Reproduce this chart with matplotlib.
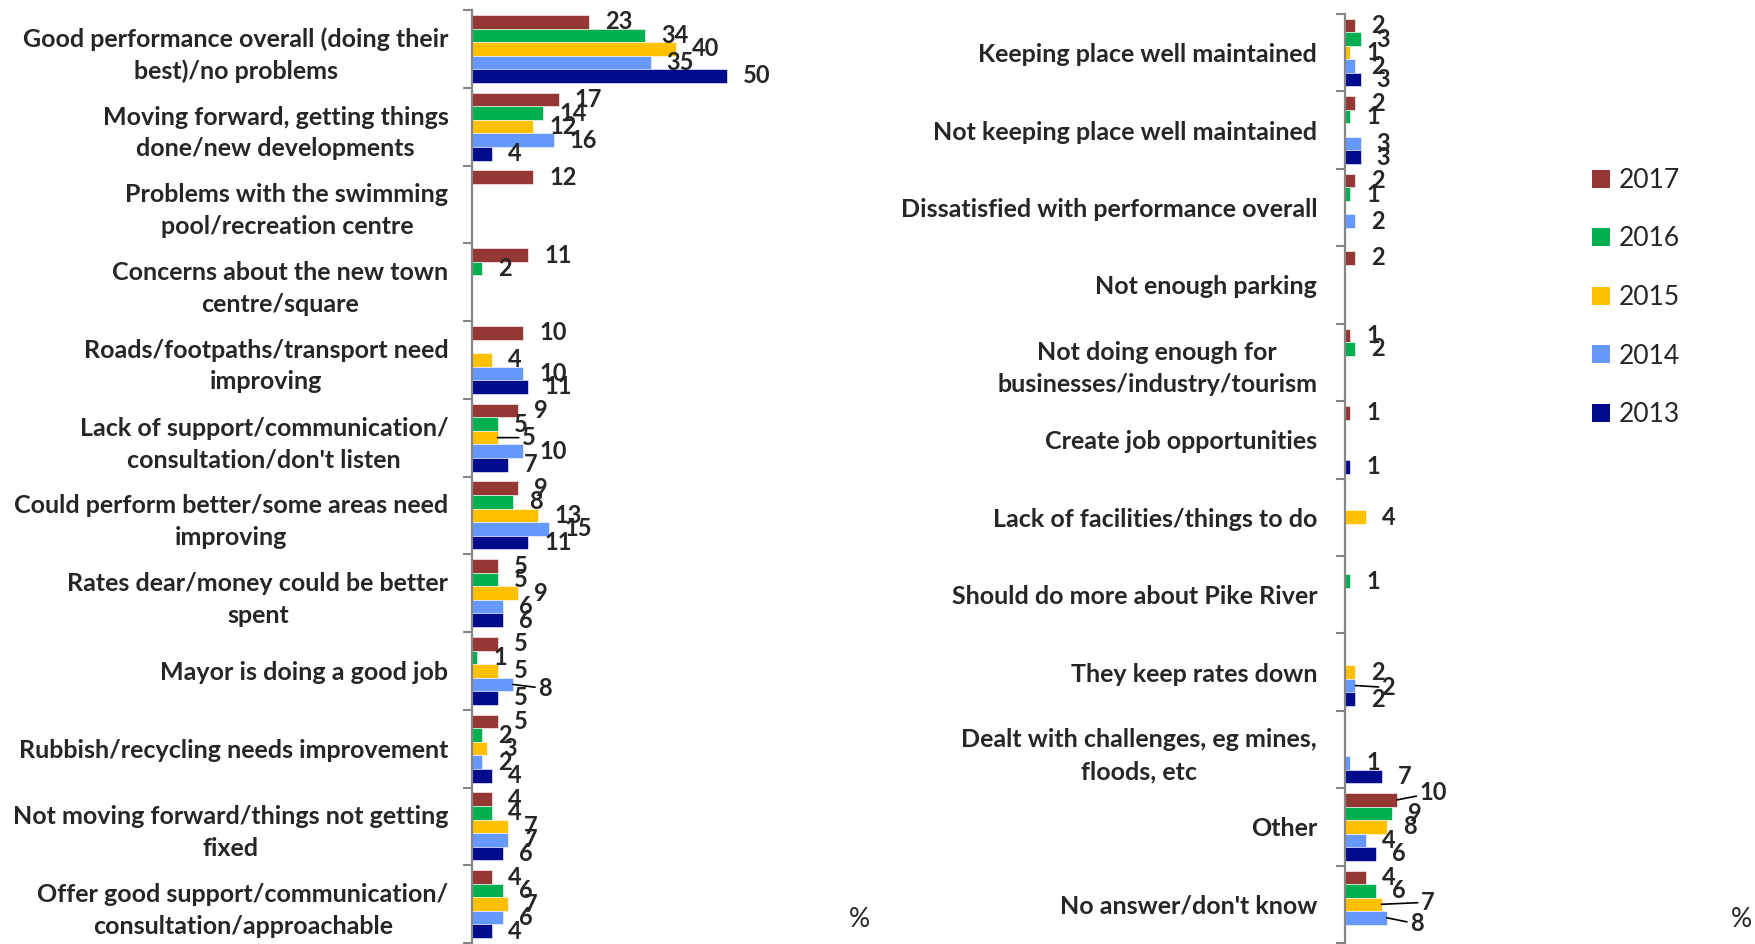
import numpy as np
import matplotlib
matplotlib.use("Agg")
import matplotlib.pyplot as plt
from matplotlib.patches import Patch

plt.rcParams['font.family'] = ['Lato', 'DejaVu Sans']

# series, top to bottom inside each group
years = ['2017', '2016', '2015', '2014', '2013']
colors = ['#953735', '#00B050', '#FFC000', '#6699FF', '#000C8C']

left_labels = [
    "Good performance overall (doing their\nbest)/no problems",
    "Moving forward, getting things\ndone/new developments",
    "Problems with the swimming\npool/recreation centre",
    "Concerns about the new town\ncentre/square",
    "Roads/footpaths/transport need\nimproving",
    "Lack of support/communication/\nconsultation/don't listen",
    "Could perform better/some areas need\nimproving",
    "Rates dear/money could be better\nspent",
    "Mayor is doing a good job",
    "Rubbish/recycling needs improvement",
    "Not moving forward/things not getting\nfixed",
    "Offer good support/communication/\nconsultation/approachable",
]
left_2017 = [23, 17, 12, 11, 10, 9, 9, 5, 5, 5, 4, 4]
left_2016 = [34, 14, None, 2, None, 5, 8, 5, 1, 2, 4, 6]
left_2015 = [40, 12, None, None, 4, 5, 13, 9, 5, 3, 7, 7]
left_2014 = [35, 16, None, None, 10, 10, 15, 6, 8, 2, 7, 6]
left_2013 = [50, 4, None, None, 11, 7, 11, 6, 5, 4, 6, 4]

right_labels = [
    "Keeping place well maintained",
    "Not keeping place well maintained",
    "Dissatisfied with performance overall",
    "Not enough parking",
    "Not doing enough for\nbusinesses/industry/tourism",
    "Create job opportunities",
    "Lack of facilities/things to do",
    "Should do more about Pike River",
    "They keep rates down",
    "Dealt with challenges, eg mines,\nfloods, etc",
    "Other",
    "No answer/don't know",
]
right_2017 = [2, 2, 2, 2, 1, 1, None, None, None, None, 10, 4]
right_2016 = [3, 1, 1, None, 2, None, None, 1, None, None, 9, 6]
right_2015 = [1, None, None, None, None, None, 4, None, 2, None, 8, 7]
right_2014 = [2, 3, 2, None, None, None, None, None, 2, 1, 4, 8]
right_2013 = [3, 3, None, None, None, 1, None, None, 2, 7, 6, None]

# labels moved off the bar end (pixels right, pixels down), drawn with a leader line
left_moved = {(5, 2): (8, 0), (8, 3): (9, 4)}
right_moved = {(8, 3): (10, 2), (10, 0): (6, -7), (11, 2): (23, -2), (11, 3): (7, 6)}

W, H = 1755, 944
fig = plt.figure(figsize=(W / 100, H / 100), dpi=100)
ax1 = fig.add_axes([472 / W, 1 / H, 398 / W, 933 / H])
ax2 = fig.add_axes([1345 / W, 1 / H, 407 / W, 929 / H])

txt = '#262626'
bar_h = 0.1744
px = 0.72  # points per pixel


def draw_panel(ax, labels, series, moved, pad):
    n = len(labels)
    y = np.arange(n)
    for j, vals in enumerate(series):
        for i, v in enumerate(vals):
            if v is None:
                continue
            yy = y[i] + (j - 2) * bar_h
            ax.barh(yy, v, height=bar_h, color=colors[j], edgecolor='white', linewidth=0.4)
            dx, dy = moved.get((i, j), (0, 0))
            off = (16 * px + dx * px, -dy * px)
            if (i, j) in moved:
                ax.annotate(str(v), xy=(v, yy), xytext=off, textcoords='offset points',
                            ha='left', va='center', fontsize=17, fontweight='bold', color=txt,
                            arrowprops=dict(arrowstyle='-', color='black', lw=1.2,
                                            shrinkA=0, shrinkB=0))
            else:
                ax.annotate(str(v), xy=(v, yy), xytext=off, textcoords='offset points',
                            ha='left', va='center', fontsize=17, fontweight='bold', color=txt)
    ax.set_ylim(n - 0.5, -0.5)
    ax.set_xlim(0, 78)
    ax.set_yticks(y)
    ax.set_yticklabels(labels, fontsize=18, fontweight='bold', color=txt)
    for t in ax.get_yticklabels():
        t.set_multialignment('center')
        t.set_linespacing(1.45)
    ax.set_yticks(np.arange(-0.5, n, 1), minor=True)
    ax.tick_params(axis='y', which='major', length=0, pad=pad)
    ax.tick_params(axis='y', which='minor', length=6.5, width=1.5, color='#868686')
    ax.set_xticks([])
    for s in ['top', 'right', 'bottom']:
        ax.spines[s].set_visible(False)
    ax.spines['left'].set_color('#868686')
    ax.spines['left'].set_linewidth(1.6)
    ax.text(1.0, 0.012, '%', transform=ax.transAxes, ha='right', va='bottom',
            fontsize=19, color=txt)


draw_panel(ax1, left_labels, [left_2017, left_2016, left_2015, left_2014, left_2013],
           left_moved, 17)
draw_panel(ax2, right_labels, [right_2017, right_2016, right_2015, right_2014, right_2013],
           right_moved, 20)

handles = [Patch(facecolor=c, edgecolor='none') for c in colors]
fig.legend(handles, years, loc='center left', bbox_to_anchor=(1592 / W, 1 - 297.5 / H),
           frameon=False, fontsize=19, labelcolor=txt, handlelength=0.68, handleheight=0.68,
           handletextpad=0.35, labelspacing=1.27, borderpad=0, borderaxespad=0)

fig.savefig('out.png', dpi=100)
